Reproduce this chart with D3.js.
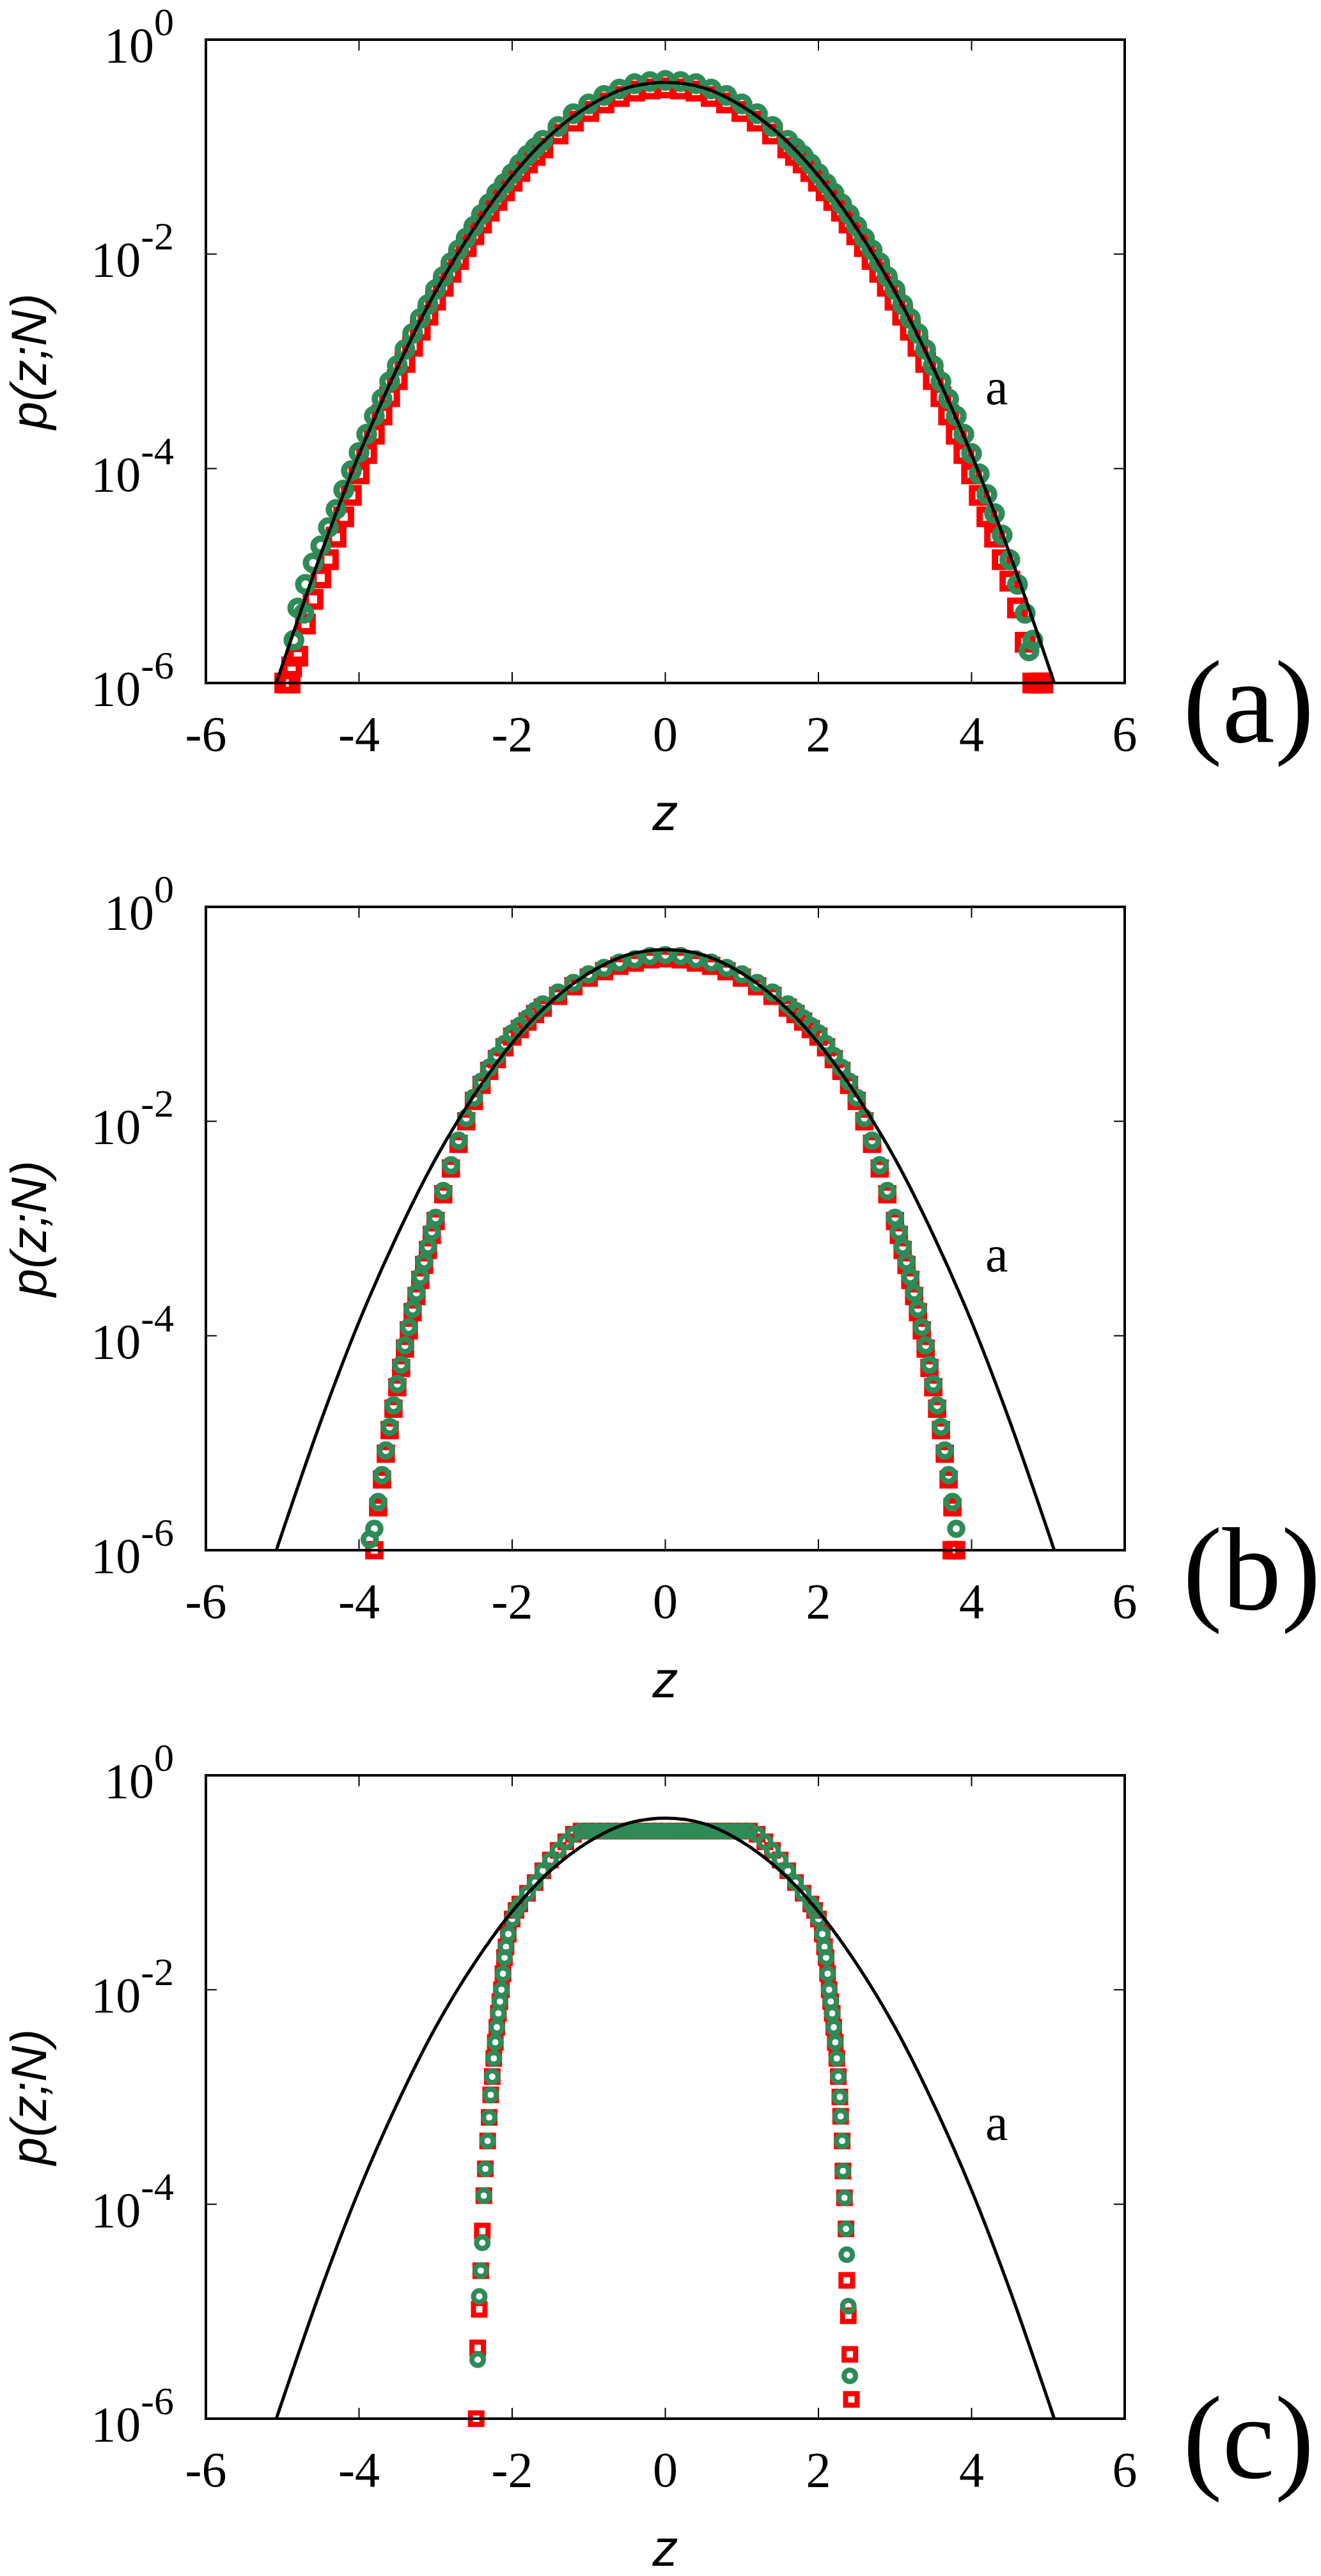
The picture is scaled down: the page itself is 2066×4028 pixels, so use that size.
<!DOCTYPE html>
<html>
<head>
<meta charset="utf-8">
<script src="https://cdn.jsdelivr.net/npm/d3@7"></script>
<style>
  body { margin: 0; background: #fff; }
  svg { display: block; }
</style>
</head>
<body>
<div id="chart"></div>
<script>
// ---- data (log10 p) ----
let xTicks = [-6, -4, -2, 0, 2, 4, 6];
let yTicks = [0, -2, -4, -6];
let panelNames = ['(a)', '(b)', '(c)'];

// reference curve "a"
let zRef = [-5.08, -5, -4.5, -4, -3.5, -3, -2.5, -2, -1.5, -1, -0.5, 0, 0.5, 1, 1.5, 2, 2.5, 3, 3.5, 4, 4.5, 5, 5.08];
let logRef = [-6.0, -5.83, -4.80, -3.87, -3.06, -2.35, -1.76, -1.27, -0.89, -0.62, -0.45, -0.40, -0.45, -0.62, -0.89, -1.27, -1.76, -2.35, -3.06, -3.87, -4.80, -5.83, -6.0];

// panel (a)
let zA = [-4.8, -4.7, -4.6, -4.5, -4.4, -4.3, -4.2, -4.1, -4.0, -3.9, -3.8, -3.7, -3.6, -3.5, -3.4, -3.3, -3.2, -3.1, -3.0,
  -2.9, -2.8, -2.7, -2.6, -2.5, -2.4, -2.3, -2.2, -2.1, -2.0, -1.9, -1.8, -1.7, -1.6, -1.4, -1.2, -1.0, -0.8, -0.6, -0.4, -0.2,
  0, 0.2, 0.4, 0.6, 0.8, 1.0, 1.2, 1.4, 1.6, 1.7, 1.8, 1.9, 2.0, 2.1, 2.2, 2.3, 2.4, 2.5, 2.6, 2.7, 2.8, 2.9, 3.0,
  3.1, 3.2, 3.3, 3.4, 3.5, 3.6, 3.7, 3.8, 3.9, 4.0, 4.1, 4.2, 4.3, 4.4, 4.5, 4.6, 4.7, 4.8];
let greenA = [-5.30, -5.08, -4.88, -4.72, -4.55, -4.38, -4.20, -4.02, -3.85, -3.68, -3.51, -3.35, -3.19, -3.04, -2.89, -2.74, -2.60, -2.47, -2.33,
  -2.21, -2.08, -1.96, -1.85, -1.74, -1.63, -1.53, -1.43, -1.34, -1.25, -1.16, -1.08, -1.01, -0.94, -0.81, -0.69, -0.60, -0.52, -0.46, -0.41, -0.39,
  -0.38, -0.39, -0.41, -0.46, -0.52, -0.60, -0.69, -0.81, -0.94, -1.01, -1.08, -1.16, -1.25, -1.34, -1.43, -1.53, -1.63, -1.74, -1.85, -1.96, -2.08, -2.21, -2.33,
  -2.47, -2.60, -2.74, -2.89, -3.04, -3.19, -3.35, -3.51, -3.68, -3.86, -4.05, -4.24, -4.42, -4.62, -4.85, -5.08, -5.35, -5.60];
let redA = [-5.75, -5.45, -5.22, -5.02, -4.85, -4.64, -4.45, -4.25, -4.05, -3.86, -3.68, -3.50, -3.33, -3.17, -3.01, -2.86, -2.71, -2.57, -2.43,
  -2.30, -2.17, -2.05, -1.93, -1.82, -1.71, -1.60, -1.50, -1.41, -1.32, -1.23, -1.15, -1.08, -1.01, -0.88, -0.76, -0.67, -0.59, -0.53, -0.48, -0.46,
  -0.45, -0.46, -0.48, -0.53, -0.59, -0.67, -0.76, -0.88, -1.01, -1.08, -1.15, -1.23, -1.32, -1.41, -1.50, -1.60, -1.71, -1.82, -1.93, -2.05, -2.17, -2.30, -2.43,
  -2.57, -2.71, -2.86, -3.01, -3.17, -3.33, -3.50, -3.68, -3.86, -4.05, -4.25, -4.45, -4.64, -4.85, -5.05, -5.30, -5.62, -6.0];
let redExtraA = [[-4.97, -6.0], [-4.90, -6.0], [-4.88, -5.85], [4.87, -6.0], [4.93, -6.0]];
let greenExtraA = [[-4.72, -5.35], [-4.85, -5.6], [4.75, -5.7]];

// panel (b)
let zB = [-3.8, -3.75, -3.7, -3.65, -3.6, -3.55, -3.5, -3.45, -3.4, -3.35, -3.3, -3.25, -3.2, -3.15, -3.1, -3.05, -3.0,
  -2.9, -2.8, -2.7, -2.6, -2.5, -2.4, -2.3, -2.2, -2.1, -2.0, -1.9, -1.8, -1.7, -1.6, -1.4, -1.2, -1.0, -0.8, -0.6, -0.4, -0.2,
  0, 0.2, 0.4, 0.6, 0.8, 1.0, 1.2, 1.4, 1.6, 1.7, 1.8, 1.9, 2.0, 2.1, 2.2, 2.3, 2.4, 2.5, 2.6, 2.7, 2.8, 2.9,
  3.0, 3.05, 3.1, 3.15, 3.2, 3.25, 3.3, 3.35, 3.4, 3.45, 3.5, 3.55, 3.6, 3.65, 3.7, 3.75, 3.8];
let greenB = [-5.8, -5.55, -5.3, -5.07, -4.85, -4.65, -4.45, -4.27, -4.09, -3.92, -3.75, -3.6, -3.45, -3.31, -3.17, -3.03, -2.9,
  -2.65, -2.41, -2.18, -1.97, -1.78, -1.63, -1.50, -1.39, -1.28, -1.18, -1.11, -1.04, -0.97, -0.91, -0.80, -0.71, -0.63, -0.57, -0.52, -0.49, -0.46,
  -0.45, -0.46, -0.49, -0.52, -0.57, -0.63, -0.71, -0.80, -0.91, -0.97, -1.04, -1.11, -1.18, -1.28, -1.39, -1.50, -1.63, -1.78, -1.97, -2.18, -2.41, -2.65,
  -2.9, -3.03, -3.17, -3.31, -3.45, -3.6, -3.75, -3.92, -4.09, -4.27, -4.45, -4.65, -4.85, -5.07, -5.3, -5.55, -5.8];
let redB = [-6.0, -5.6, -5.34, -5.1, -4.88, -4.68, -4.48, -4.30, -4.12, -3.95, -3.78, -3.63, -3.48, -3.34, -3.20, -3.06, -2.93,
  -2.68, -2.44, -2.21, -2.00, -1.81, -1.66, -1.53, -1.42, -1.31, -1.21, -1.14, -1.07, -1.00, -0.94, -0.83, -0.74, -0.66, -0.60, -0.55, -0.52, -0.49,
  -0.48, -0.49, -0.52, -0.55, -0.60, -0.66, -0.74, -0.83, -0.94, -1.00, -1.07, -1.14, -1.21, -1.31, -1.42, -1.53, -1.66, -1.81, -2.00, -2.21, -2.44, -2.68,
  -2.93, -3.06, -3.20, -3.34, -3.48, -3.63, -3.78, -3.95, -4.12, -4.30, -4.48, -4.68, -4.88, -5.1, -5.34, -5.6, -6.0];
let redExtraB = [[3.74, -6.0], [3.77, -6.0]];
let greenExtraB = [[-3.86, -5.9]];

// panel (c)
let zC = [-2.45, -2.43, -2.41, -2.39, -2.37, -2.35, -2.32, -2.30, -2.28, -2.26, -2.24, -2.22, -2.20, -2.18, -2.16, -2.14, -2.12, -2.10, -2.08, -2.05,
  -2.0, -1.95, -1.9, -1.8, -1.7, -1.6, -1.5, -1.4, -1.3, -1.2, -1.1, -1.0, -0.9, -0.8, -0.7, -0.6, -0.5, -0.4, -0.3, -0.2, -0.1,
  0, 0.1, 0.2, 0.3, 0.4, 0.5, 0.6, 0.7, 0.8, 0.9, 1.0, 1.1, 1.2, 1.3, 1.4, 1.5, 1.6, 1.7, 1.8, 1.9, 1.95, 2.0,
  2.05, 2.08, 2.10, 2.12, 2.14, 2.16, 2.18, 2.20, 2.22, 2.24, 2.26, 2.28, 2.29, 2.31, 2.32, 2.34, 2.36, 2.37, 2.39, 2.41];
let greenC = [-5.45, -4.86, -4.62, -4.36, -3.92, -3.67, -3.41, -3.19, -2.98, -2.81, -2.64, -2.49, -2.35, -2.22, -2.11, -2.0, -1.85, -1.7, -1.6, -1.48,
  -1.34, -1.26, -1.2, -1.1, -1.0, -0.89, -0.79, -0.7, -0.62, -0.55, -0.52, -0.52, -0.52, -0.52, -0.52, -0.52, -0.52, -0.52, -0.52, -0.52, -0.52,
  -0.52, -0.52, -0.52, -0.52, -0.52, -0.52, -0.52, -0.52, -0.52, -0.52, -0.52, -0.52, -0.55, -0.62, -0.7, -0.79, -0.89, -1.0, -1.1, -1.2, -1.26, -1.34,
  -1.48, -1.6, -1.7, -1.85, -2.0, -2.11, -2.22, -2.35, -2.49, -2.64, -2.81, -3.0, -3.18, -3.41, -3.69, -3.94, -4.23, -4.47, -4.95, -5.6];
let redC = [-5.34, -4.98, -4.62, -4.25, -3.92, -3.67, -3.41, -3.19, -2.98, -2.81, -2.64, -2.49, -2.35, -2.22, -2.11, -2.0, -1.85, -1.7, -1.6, -1.48,
  -1.34, -1.26, -1.2, -1.1, -1.0, -0.89, -0.79, -0.7, -0.62, -0.55, -0.52, -0.52, -0.52, -0.52, -0.52, -0.52, -0.52, -0.52, -0.52, -0.52, -0.52,
  -0.52, -0.52, -0.52, -0.52, -0.52, -0.52, -0.52, -0.52, -0.52, -0.52, -0.52, -0.52, -0.55, -0.62, -0.7, -0.79, -0.89, -1.0, -1.1, -1.2, -1.26, -1.34,
  -1.48, -1.6, -1.7, -1.85, -2.0, -2.11, -2.22, -2.35, -2.49, -2.64, -2.81, -3.0, -3.18, -3.41, -3.69, -3.94, -4.23, -4.71, -5.04, -5.40];
let redExtraC = [[-2.47, -6.0], [2.43, -5.82]];
let greenExtraC = [];

let panels = [
  {z: zA, red: redA, green: greenA, redX: redExtraA, greenX: greenExtraA, top: 62, ms: 1.25},
  {z: zB, red: redB, green: greenB, redX: redExtraB, greenX: greenExtraB, top: 1418, ms: 1.1},
  {z: zC, red: redC, green: greenC, redX: redExtraC, greenX: greenExtraC, top: 2776, ms: 1.0}
];

// ---- layout ----
let W = 2066, H = 4028;
let left = 322, right = 1759, plotH = 1006;
let serif = '"Liberation Serif", "Nimbus Roman", "Times New Roman", "DejaVu Serif", "Noto Serif", serif';
let sans = '"Liberation Sans", "DejaVu Sans", Arial, sans-serif';

let svg = d3.select('#chart').append('svg').attr('width', W).attr('height', H);

let x = d3.scaleLinear().domain([-6, 6]).range([left, right]);

panels.forEach(function (p, i) {
  let top = p.top, bottom = top + plotH;
  let y = d3.scaleLinear().domain([-6, 0]).range([bottom, top]);
  let g = svg.append('g');

  g.append('clipPath').attr('id', 'clip' + i)
    .append('rect').attr('x', left).attr('y', top).attr('width', right - left).attr('height', plotH);

  // ticks (inward, mirrored)
  let tk = 17;
  xTicks.slice(1, -1).forEach(function (t) {
    g.append('line').attr('x1', x(t)).attr('x2', x(t)).attr('y1', bottom).attr('y2', bottom - tk)
      .attr('stroke', '#000').attr('stroke-width', 2);
    g.append('line').attr('x1', x(t)).attr('x2', x(t)).attr('y1', top).attr('y2', top + tk)
      .attr('stroke', '#000').attr('stroke-width', 2);
  });
  yTicks.slice(1, -1).forEach(function (t) {
    g.append('line').attr('x1', left).attr('x2', left + tk).attr('y1', y(t)).attr('y2', y(t))
      .attr('stroke', '#000').attr('stroke-width', 2);
    g.append('line').attr('x1', right).attr('x2', right - tk).attr('y1', y(t)).attr('y2', y(t))
      .attr('stroke', '#000').attr('stroke-width', 2);
  });

  // tick labels
  xTicks.forEach(function (t) {
    g.append('text').attr('x', x(t)).attr('y', bottom + 106)
      .attr('text-anchor', 'middle').style('font-family', serif).attr('font-size', 78)
      .text(t);
  });
  yTicks.forEach(function (t) {
    let tx = g.append('text').attr('x', 272).attr('y', y(t) + 35)
      .attr('text-anchor', 'end').style('font-family', serif).attr('font-size', 78);
    tx.append('tspan').text('10');
    tx.append('tspan').attr('dy', -42).attr('font-size', 62).text(t);
  });

  // data markers
  let s = p.ms;
  let pts = g.append('g');
  let redPts = p.z.map((z, k) => [z, p.red[k]]).concat(p.redX);
  let greenPts = p.z.map((z, k) => [z, p.green[k]]).concat(p.greenX);
  pts.selectAll('rect.r').data(redPts).enter().append('rect')
    .attr('x', d => x(d[0]) - 9 * s).attr('y', d => y(d[1]) - 9 * s)
    .attr('width', 18 * s).attr('height', 18 * s)
    .attr('fill', 'none').attr('stroke', '#ff0000').attr('stroke-width', 8 * s);
  pts.selectAll('circle.g').data(greenPts).enter().append('circle')
    .attr('cx', d => x(d[0])).attr('cy', d => y(d[1])).attr('r', 9 * s)
    .attr('fill', 'none').attr('stroke', '#2e8b57').attr('stroke-width', 8 * s);

  // reference curve
  let line = d3.line().x(d => x(d[0])).y(d => y(d[1])).curve(d3.curveCatmullRom);
  g.append('path').datum(zRef.map((z, k) => [z, logRef[k]]))
    .attr('d', line).attr('fill', 'none').attr('stroke', '#000').attr('stroke-width', 5)
    .attr('clip-path', 'url(#clip' + i + ')');

  g.append('text').attr('x', 1541).attr('y', top + 570)
    .style('font-family', serif).attr('font-size', 80).text('a');

  // frame
  g.append('rect').attr('x', left).attr('y', top).attr('width', right - left).attr('height', plotH)
    .attr('fill', 'none').attr('stroke', '#000').attr('stroke-width', 4);

  // axis titles
  g.append('text').attr('x', (left + right) / 2).attr('y', bottom + 230)
    .attr('text-anchor', 'middle').style('font-family', sans).attr('font-style', 'italic')
    .attr('font-size', 80).text('z');
  g.append('text').attr('transform', 'translate(72,' + (top + plotH / 2) + ') rotate(-90)')
    .attr('text-anchor', 'middle').style('font-family', sans).attr('font-style', 'italic')
    .attr('font-size', 78).text('p(z;N)');

  // panel label
  g.append('text').attr('x', 1850).attr('y', bottom + 92)
    .style('font-family', serif).attr('font-size', 185).text(panelNames[i]);
});
</script>
</body>
</html>
